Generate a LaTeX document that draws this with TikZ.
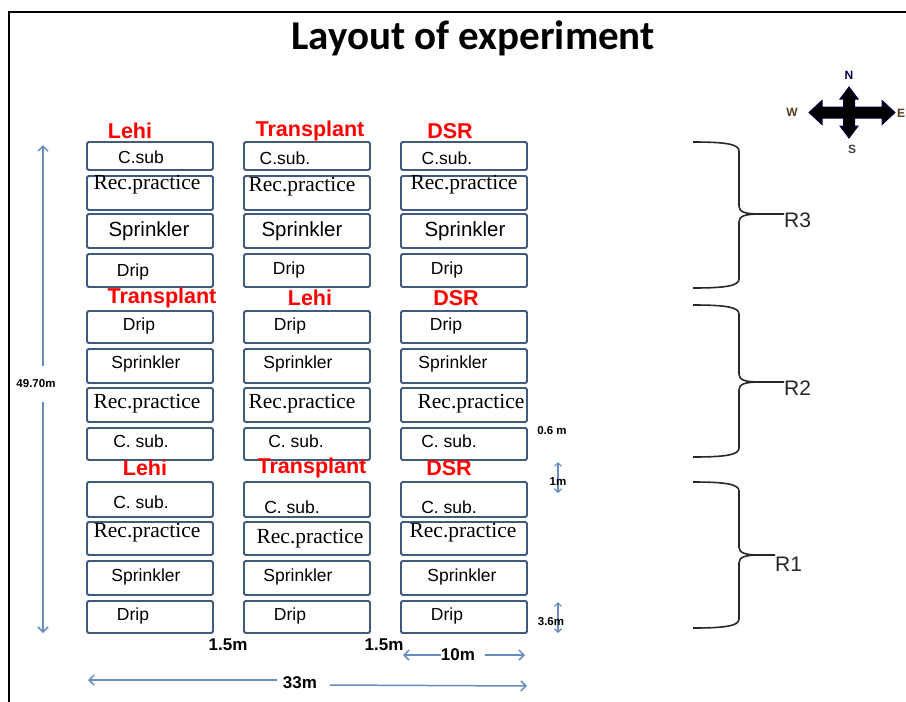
\documentclass[tikz,border=0pt]{standalone}
\usepackage{fontspec}
\setmainfont{Liberation Sans}
\newfontfamily\lsans{Liberation Sans}
\newfontfamily\lserif{Liberation Serif}
\newfontfamily\carl{Carlito}
\usetikzlibrary{arrows.meta}
\definecolor{boxcol}{RGB}{65,90,125}
\definecolor{arrcol}{RGB}{105,140,190}
\definecolor{redlab}{RGB}{255,0,0}
\definecolor{bracecol}{RGB}{40,40,40}
\tikzset{
  plot/.style={draw=boxcol, line width=1.8pt, rounded corners=1.5pt, inner sep=0pt, minimum width=126pt},
  st/.style={inner sep=0pt, font=\lsans\fontsize{17.5}{17}\selectfont},
  stbig/.style={inner sep=0pt, font=\lsans\fontsize{20.5}{20}\selectfont},
  rp/.style={inner sep=0pt, font=\lserif\fontsize{21.5}{21}\selectfont},
  trt/.style={inner sep=0pt, text=redlab, font=\lsans\bfseries\fontsize{21.5}{21}\selectfont},
  dim/.style={inner sep=0pt, font=\lsans\bfseries\fontsize{17}{17}\selectfont},
  dimsm/.style={inner sep=0pt, font=\lsans\bfseries\fontsize{11.5}{11}\selectfont},
  arr/.style={draw=arrcol, line width=1.5pt, -{Straight Barb[length=5pt,width=10pt]}},
  arrsm/.style={draw=arrcol, line width=1.2pt, -{Straight Barb[length=3.5pt,width=7pt]}},
  brace/.style={draw=bracecol, line width=1.6pt},
  rlab/.style={inner sep=0pt, anchor=west, font=\lsans\fontsize{21}{21}\selectfont, text=black!85},
  cmp/.style={inner sep=0pt, font=\lsans\bfseries\fontsize{12}{12}\selectfont}
}
\begin{document}
\begin{tikzpicture}[x=1pt,y=-1pt]
\useasboundingbox (0,0) rectangle (906,702);
\clip (0,0) rectangle (906,702);
\fill[white] (0,0) rectangle (906,702);
\draw[line width=1.5pt] (9,702) -- (9,12) -- (906,12);

% title
\node[inner sep=0pt, anchor=base, font=\carl\bfseries\fontsize{41}{41}\selectfont] (title) at (473,49) {Layout of experiment};

% ---------- R3 block ----------
\node[trt] (l31) at (130,131) {Lehi};
\node[trt] (l32) at (310,131) {Transplant};
\node[trt] (l33) at (450,131) {DSR};
% col1
\node[plot, minimum height=28pt] (b311) at (150,156) {};
\node[plot, minimum height=34pt] (b312) at (150,193) {};
\node[plot, minimum height=34pt] (b313) at (150,231) {};
\node[plot, minimum height=33pt] (b314) at (150,270.5) {};
% col2
\node[plot, minimum height=28pt] (b321) at (307,156) {};
\node[plot, minimum height=34pt] (b322) at (307,193) {};
\node[plot, minimum height=34pt] (b323) at (307,231) {};
\node[plot, minimum height=33pt] (b324) at (307,270.5) {};
% col3
\node[plot, minimum height=28pt] (b331) at (464,156) {};
\node[plot, minimum height=34pt] (b332) at (464,193) {};
\node[plot, minimum height=34pt] (b333) at (464,231) {};
\node[plot, minimum height=33pt] (b334) at (464,270.5) {};
% texts
\node[st] (t311) at (141,157) {C.sub};
\node[rp] (t312) at (147,185) {Rec.practice};
\node[stbig] (t313) at (149,231) {Sprinkler};
\node[st] (t314) at (133,272) {Drip};
\node[st] (t321) at (285,158) {C.sub.};
\node[rp] (t322) at (302,187) {Rec.practice};
\node[stbig] (t323) at (302,231) {Sprinkler};
\node[st] (t324) at (289,270) {Drip};
\node[st] (t331) at (447,158) {C.sub.};
\node[rp] (t332) at (464,185) {Rec.practice};
\node[stbig] (t333) at (465,231) {Sprinkler};
\node[st] (t334) at (447,270) {Drip};

% ---------- R2 block ----------
\node[trt] (l21) at (162,298) {Transplant};
\node[trt] (l22) at (310,298) {Lehi};
\node[trt] (l23) at (456,298) {DSR};
\node[plot, minimum height=32pt] (b211) at (150,327) {};
\node[plot, minimum height=34pt] (b212) at (150,366) {};
\node[plot, minimum height=34pt] (b213) at (150,405) {};
\node[plot, minimum height=32pt] (b214) at (150,444) {};
\node[plot, minimum height=32pt] (b221) at (307,327) {};
\node[plot, minimum height=34pt] (b222) at (307,366) {};
\node[plot, minimum height=34pt] (b223) at (307,405) {};
\node[plot, minimum height=32pt] (b224) at (307,444) {};
\node[plot, minimum height=32pt] (b231) at (464,327) {};
\node[plot, minimum height=34pt] (b232) at (464,366) {};
\node[plot, minimum height=34pt] (b233) at (464,405) {};
\node[plot, minimum height=32pt] (b234) at (464,444) {};
\node[st] (t211) at (139,326) {Drip};
\node[st] (t212) at (146,364) {Sprinkler};
\node[rp] (t213) at (147,404) {Rec.practice};
\node[st] (t214) at (141,441) {C. sub.};
\node[st] (t221) at (290,326) {Drip};
\node[st] (t222) at (298,364) {Sprinkler};
\node[rp] (t223) at (302,404) {Rec.practice};
\node[st] (t224) at (296,441) {C. sub.};
\node[st] (t231) at (446,326) {Drip};
\node[st] (t232) at (453,364) {Sprinkler};
\node[rp] (t233) at (471,404) {Rec.practice};
\node[st] (t234) at (449,441) {C. sub.};

% ---------- R1 block ----------
\node[trt] (l11) at (145,468) {Lehi};
\node[trt] (l12) at (312,468) {Transplant};
\node[trt] (l13) at (449,468) {DSR};
\node[plot, minimum height=35pt] (b111) at (150,499.5) {};
\node[plot, minimum height=33pt] (b112) at (150,538.5) {};
\node[plot, minimum height=34pt] (b113) at (150,578) {};
\node[plot, minimum height=32pt] (b114) at (150,617) {};
\node[plot, minimum height=35pt] (b121) at (307,499.5) {};
\node[plot, minimum height=33pt] (b122) at (307,538.5) {};
\node[plot, minimum height=34pt] (b123) at (307,578) {};
\node[plot, minimum height=32pt] (b124) at (307,617) {};
\node[plot, minimum height=35pt] (b131) at (464,499.5) {};
\node[plot, minimum height=33pt] (b132) at (464,538.5) {};
\node[plot, minimum height=34pt] (b133) at (464,578) {};
\node[plot, minimum height=32pt] (b134) at (464,617) {};
\node[st] (t111) at (141,502) {C. sub.};
\node[rp] (t112) at (147,533) {Rec.practice};
\node[st] (t113) at (146,577) {Sprinkler};
\node[st] (t114) at (133,616) {Drip};
\node[st] (t121) at (292,507) {C. sub.};
\node[rp] (t122) at (310,539) {Rec.practice};
\node[st] (t123) at (298,577) {Sprinkler};
\node[st] (t124) at (290,616) {Drip};
\node[st] (t131) at (449,507) {C. sub.};
\node[rp] (t132) at (463,533) {Rec.practice};
\node[st] (t133) at (462,577) {Sprinkler};
\node[st] (t134) at (447,616) {Drip};

% ---------- dimensions ----------
\node[dimsm] (d497) at (36,384) {49.70m};
\coordinate (vt) at (43,145);
\coordinate (vb) at (43,633);
\coordinate (vgt) at (43,366);
\coordinate (vgb) at (43,402);
\draw[arr] (vgt) -- (vt);
\draw[arr] (vgb) -- (vb);

\node[dim] (d15a) at (228,645) {1.5m};
\node[dim] (d15b) at (384,645) {1.5m};

\node[dim] (d10) at (458,655) {10m};
\coordinate (t10l) at (403,655);
\coordinate (t10r) at (525,655);
\coordinate (s10l) at (441,655);
\coordinate (s10r) at (485,655);
\draw[arr] (s10l) -- (t10l);
\draw[arr] (s10r) -- (t10r);

\node[dim] (d33) at (300,683) {33m};
\coordinate (t33l) at (88,680);
\coordinate (s33l) at (277,680);
\coordinate (t33r) at (527,686);
\coordinate (s33r) at (330,685);
\draw[arr] (s33l) -- (t33l);
\draw[arr] (s33r) -- (t33r);

\node[dimsm] (d06) at (552,431) {0.6 m};

\coordinate (m1t) at (558,462);
\coordinate (m1b) at (558,493);
\coordinate (m1c) at (558,478);
\draw[arrsm] (m1c) -- (m1t);
\draw[arrsm] (m1c) -- (m1b);
\node[dimsm] (d1) at (558,482) {1m};

\coordinate (m36t) at (558,602);
\coordinate (m36b) at (558,633);
\coordinate (m36c) at (558,618);
\draw[arrsm] (m36c) -- (m36t);
\draw[arrsm] (m36c) -- (m36b);
\node[dimsm] (d36) at (551,622) {3.6m};

% ---------- braces ----------
\node[rlab] (R3) at (784,220) {R3};
\node[rlab] (R2) at (784,388) {R2};
\node[rlab] (R1) at (775,564) {R1};
\draw[brace] (693,142) .. controls (725,142) and (739,144) .. (739,151) -- (739,206)
  .. controls (739,212) and (745,214) .. (760,214) -- (R3.west |- 0,214);
\draw[brace] (760,214) .. controls (745,214) and (739,216) .. (739,222) -- (739,279)
  .. controls (739,286) and (725,288) .. (693,288);
\draw[brace] (693,305) .. controls (725,305) and (739,307) .. (739,314) -- (739,374)
  .. controls (739,380) and (745,382) .. (760,382) -- (R2.west |- 0,382);
\draw[brace] (760,382) .. controls (745,382) and (739,384) .. (739,390) -- (739,448)
  .. controls (739,455) and (725,457) .. (693,457);
\draw[brace] (693,482) .. controls (725,482) and (739,484) .. (739,491) -- (739,547)
  .. controls (739,553) and (745,555) .. (760,555) -- (R1.west |- 0,555);
\draw[brace] (760,555) .. controls (745,555) and (739,557) .. (739,563) -- (739,619)
  .. controls (739,626) and (725,628) .. (693,628);

% ---------- compass ----------
\draw[fill=black, draw=black!75!blue, line width=1pt, line join=miter]
  (895,112.5) -- (882,100.5) -- (882,107) -- (854.5,107) -- (854.5,99) -- (858,99) -- (849,87)
  -- (840,99) -- (843.5,99) -- (843.5,107) -- (822,107) -- (822,100.5) -- (809,112.5)
  -- (822,124.5) -- (822,118) -- (843.5,118) -- (843.5,126) -- (840,126) -- (849,138)
  -- (858,126) -- (854.5,126) -- (854.5,118) -- (882,118) -- (882,124.5) -- cycle;
\node[cmp, text=black!70!blue] (cN) at (849,75) {N};
\node[cmp, text=black!75] (cS) at (852,149) {S};
\node[cmp, text=black!55!brown] (cW) at (792,112) {W};
\node[cmp, text=black!55!brown, anchor=west] (cE) at (897,113) {E};
\end{tikzpicture}
\end{document}
